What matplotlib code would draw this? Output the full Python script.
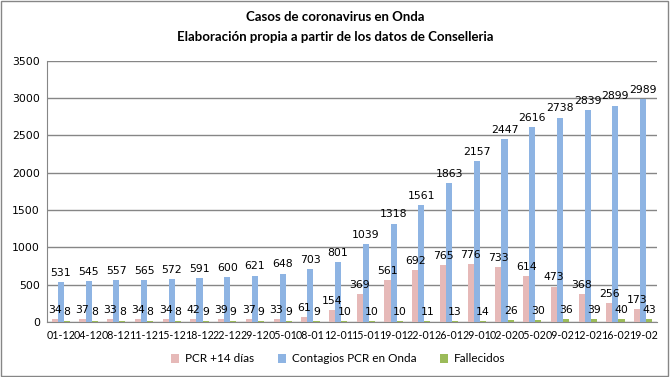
import matplotlib
matplotlib.use("Agg")
import matplotlib.pyplot as plt
import numpy as np
from matplotlib.patches import Rectangle

fechas = ["01-12", "04-12", "08-12", "11-12", "15-12", "18-12", "22-12", "29-12",
          "05-01", "08-01", "12-01", "15-01", "19-01", "22-01", "26-01", "29-01",
          "02-02", "05-02", "09-02", "12-02", "16-02", "19-02"]
pcr_14 = [34, 37, 33, 34, 34, 42, 39, 37, 33, 61, 154, 369, 561, 692, 765, 776,
          733, 614, 473, 368, 256, 173]
contagios = [531, 545, 557, 565, 572, 591, 600, 621, 648, 703, 801, 1039, 1318,
             1561, 1863, 2157, 2447, 2616, 2738, 2839, 2899, 2989]
fallecidos = [8, 8, 8, 8, 8, 9, 9, 9, 9, 9, 10, 10, 10, 11, 13, 14, 26, 30, 36,
              39, 40, 43]

series = [("PCR +14 días", pcr_14, "#e6b9b8"),
          ("Contagios PCR en Onda", contagios, "#8eb4e3"),
          ("Fallecidos", fallecidos, "#9bbb59")]

fig = plt.figure(figsize=(6.7, 3.77), dpi=100)
ax = fig.add_axes([0.0701, 0.146, 0.9105, 0.693])

x = np.arange(len(fechas))
w = 0.22
for k, (name, vals, col) in enumerate(series):
    bars = ax.bar(x + (k - 1) * w, vals, w, color=col, label=name, zorder=3)
    # etiqueta de valor encima de cada barra
    for b, v in zip(bars, vals):
        ax.annotate(str(v), (b.get_x() + b.get_width() / 2, v),
                    xytext=(0, 3), textcoords="offset points",
                    ha="center", va="bottom", fontsize=7.8,
                    family="DejaVu Sans", color="black", zorder=4)

ax.set_xlim(-0.5, len(fechas) - 0.5)
ax.set_ylim(0, 3500)
ax.set_yticks(range(0, 3501, 500))
ax.yaxis.grid(True, color="#868686", linewidth=1, zorder=0)
ax.set_axisbelow(True)
ax.set_xticks(x)
ax.set_xticklabels(fechas, family="Lato", fontsize=7.7)
for lab in ax.get_yticklabels():
    lab.set_family("DejaVu Sans")
    lab.set_fontsize(7.8)
ax.tick_params(axis="both", length=0, pad=5)
ax.tick_params(axis="x", pad=6)
for s in ["top", "right"]:
    ax.spines[s].set_visible(False)
for s in ["left", "bottom"]:
    ax.spines[s].set_color("#868686")

fig.text(0.5, 1 - 17 / 377, "Casos de coronavirus en Onda", ha="center",
         va="center", family="Lato", weight="bold", fontsize=9.5)
fig.text(0.5, 1 - 37 / 377, "Elaboración propia a partir de los datos de Conselleria",
         ha="center", va="center", family="Lato", weight="bold", fontsize=9.5)

fig.legend(loc="center", bbox_to_anchor=(0.505, 1 - 359 / 377), ncol=3,
           frameon=False, prop={"family": "Lato", "size": 8.5},
           handlelength=0.7, handleheight=0.7, handletextpad=0.5,
           columnspacing=2.0)

fig.patches.append(Rectangle((0.001, 0.002), 0.996, 0.995, transform=fig.transFigure,
                             fill=False, edgecolor="#868686", linewidth=1))

fig.savefig("out.png", dpi=100)
